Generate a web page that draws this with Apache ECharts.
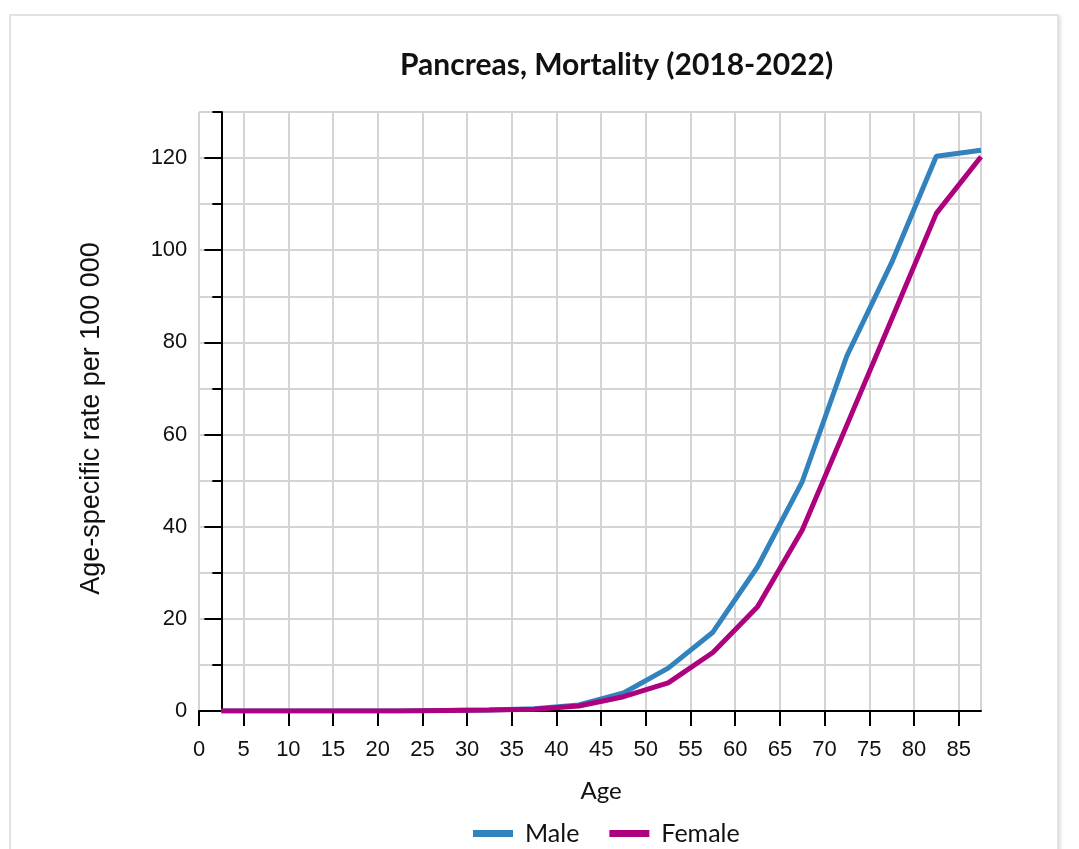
<!DOCTYPE html>
<html>
<head>
<meta charset="utf-8">
<script src="https://cdn.jsdelivr.net/npm/echarts@6/dist/echarts.min.js"></script>
<style>
  body { margin: 0; background: #fff; overflow: hidden; }
  #frame {
    position: absolute; left: 9px; top: 14px; width: 1046px; height: 900px;
    border: 2px solid #e2e2e2; box-shadow: 2px 2px 3px rgba(0,0,0,0.12);
  }
  #main { position: absolute; left: 0; top: 0; width: 1079px; height: 849px; }
</style>
</head>
<body>
<div id="frame"></div>
<div id="main"></div>
<script>
// age group midpoints
var ages = [2.5, 7.5, 12.5, 17.5, 22.5, 27.5, 32.5, 37.5, 42.5, 47.5, 52.5, 57.5, 62.5, 67.5, 72.5, 77.5, 82.5, 87.5];
var male = [0, 0, 0, 0, 0, 0.1, 0.2, 0.5, 1.3, 3.9, 9.3, 17.1, 31.3, 49.8, 77.1, 97.3, 120.4, 121.7];
var female = [0, 0, 0, 0, 0, 0.1, 0.2, 0.4, 1.1, 3.1, 6.1, 12.7, 22.6, 39.3, 62.1, 85.0, 108.0, 120.3];
var majorTicks = [0, 20, 40, 60, 80, 100, 120];

var titleText = 'Pancreas, Mortality (2018-2022)';
var yName = 'Age-specific rate per 100 000';
var xName = 'Age';

function pairs(xs, ys) {
  return xs.map(function (x, i) { return [x, ys[i]]; });
}

var myChart = echarts.init(document.getElementById('main'));

// grid spans x 0..87.5, y axis sits at the first age midpoint
var gridLeft = 199, gridRight = 98;
var gridW = 1079 - gridLeft - gridRight;
var yOffset = -(ages[0] / 87.5) * gridW;

var option = {
  animation: false,
  title: {
    text: titleText,
    left: 395,
    top: 45,
    textStyle: { fontFamily: 'Lato', fontWeight: 'bold', fontSize: 30, color: '#111' }
  },
  legend: {
    left: 468,
    top: 816,
    itemWidth: 40,
    itemHeight: 7,
    itemGap: 30,
    icon: 'rect',
    textStyle: { fontFamily: 'Lato', fontSize: 25, color: '#111', padding: [0, 0, 0, 7] },
    data: ['Male', 'Female']
  },
  grid: { left: gridLeft, right: gridRight, top: 112, bottom: 138 },
  xAxis: {
    type: 'value',
    min: 0,
    max: 87.5,
    interval: 5,
    name: xName,
    nameLocation: 'middle',
    nameGap: 68,
    nameTextStyle: { fontFamily: 'Lato', fontSize: 24, color: '#111', padding: [0, 0, 0, 22] },
    axisLine: { lineStyle: { color: '#000', width: 2 } },
    axisTick: { length: 15, lineStyle: { color: '#000', width: 2 } },
    axisLabel: { margin: 28, fontFamily: 'Liberation Sans', fontSize: 22, color: '#111' },
    splitLine: { show: true, lineStyle: { color: '#d4d4d4', width: 2 } }
  },
  yAxis: [{
    type: 'value',
    position: 'left',
    min: 0,
    max: 130,
    interval: 10,
    offset: yOffset,
    name: yName,
    nameLocation: 'middle',
    nameGap: 116,
    nameTextStyle: { fontFamily: 'Liberation Sans', fontSize: 27, color: '#111', padding: [0, 14, 0, 0] },
    axisLine: { show: true, lineStyle: { color: '#000', width: 2 } },
    axisTick: { length: 9, lineStyle: { color: '#000', width: 2 } },
    axisLabel: {
      margin: 34, fontFamily: 'Liberation Sans', fontSize: 22, color: '#111',
      formatter: function (v) { return v % 20 === 0 ? v : ''; }
    },
    splitLine: { show: true, lineStyle: { color: '#d4d4d4', width: 2 } }
  }, {
    type: 'value',
    position: 'left',
    min: 0,
    max: 130,
    interval: 20,
    offset: yOffset,
    axisLine: { show: false },
    axisTick: { length: 17, customValues: majorTicks, lineStyle: { color: '#000', width: 2 } },
    axisLabel: { show: false },
    splitLine: { show: false }
  }],
  series: [{
    name: 'Male',
    type: 'line',
    data: pairs(ages, male),
    symbol: 'none',
    color: '#3182bd',
    lineStyle: { width: 5, color: '#3182bd' }
  }, {
    name: 'Female',
    type: 'line',
    data: pairs(ages, female),
    symbol: 'none',
    color: '#ae017e',
    lineStyle: { width: 5, color: '#ae017e' }
  }]
};

myChart.setOption(option);
</script>
</body>
</html>
